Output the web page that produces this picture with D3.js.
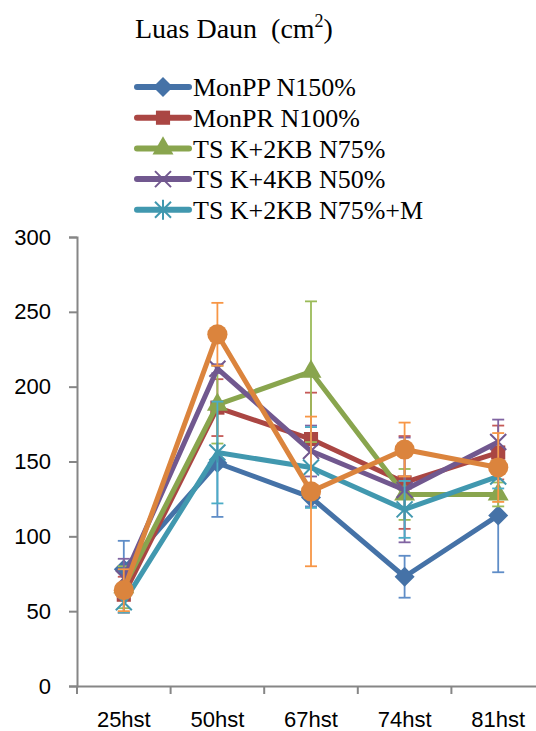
<!DOCTYPE html>
<html>
<head>
<meta charset="utf-8">
<script src="https://cdn.jsdelivr.net/npm/d3@7"></script>
<style>
  body { margin: 0; background: #fff; }
  svg { display: block; }
</style>
</head>
<body>
<div id="chart"></div>
<script>
// Data
const categories = ["25hst", "50hst", "67hst", "74hst", "81hst"];
const seriesNames = ["MonPP N150%", "MonPR N100%", "TS K+2KB N75%", "TS K+4KB N50%", "TS K+2KB N75%+M", "TS K+4KB N50%+M"];
const monPP = [78, 149, 126, 73, 114];
const monPR = [61, 186, 165, 136, 156];
const tsK2 = [66, 188, 210, 128, 128];
const tsK4 = [72, 212, 157, 131, 163];
const tsK2M = [56, 156, 146, 118, 140];
const tsK4M = [64, 235, 130, 158, 146];
const errPP = [19, 36, 6, 14, 38];
const errPR = [12, 19, 31, 31, 18];
const errK2 = [14, 26, 47, 17, 8];
const errK4 = [13, 3, 17, 35, 15];
const errK2M = [7, 34, 27, 19, 8];
const errK4M = [14, 21, 50, 18, 23];
const yTicks = [0, 50, 100, 150, 200, 250, 300];

const colors = ["#4572A7", "#AA4643", "#89A54E", "#71588F", "#4198AF", "#DB843D"];
const errColors = ["#5f8dc7", "#c55a57", "#9bbb59", "#8064a2", "#4bacc6", "#f79646"];
const markers = ["diamond", "square", "triangle", "x", "asterisk", "circle"];
const values = [monPP, monPR, tsK2, tsK4, tsK2M, tsK4M];
const errors = [errPP, errPR, errK2, errK4, errK2M, errK4M];

const series = seriesNames.map((name, i) => ({
  name: name, color: colors[i], errColor: errColors[i], marker: markers[i],
  points: categories.map((c, j) => ({cat: c, v: values[i][j], e: errors[i][j]}))
}));

const svgWidth = 536, svgHeight = 731;
const svg = d3.select("#chart").append("svg")
  .attr("width", svgWidth)
  .attr("height", svgHeight);

// Plot area
const x = d3.scaleBand().domain(categories).range([77, 545]);
const y = d3.scaleLinear().domain([0, 300]).range([686, 237]);

// Axes
const axisColor = "#868686";
const yAxis = svg.append("g")
  .attr("transform", "translate(77,0)")
  .call(d3.axisLeft(y).tickValues(yTicks).tickSize(8).tickPadding(18));
const xAxis = svg.append("g")
  .attr("transform", "translate(0,686)")
  .call(d3.axisBottom(x).tickSize(0).tickPadding(25));

// x ticks sit between categories
xAxis.selectAll(".bnd").data(d3.range(categories.length + 1)).enter()
  .append("line")
  .attr("x1", i => 77 + i * x.step()).attr("x2", i => 77 + i * x.step())
  .attr("y1", 0).attr("y2", 8)
  .attr("stroke", axisColor).attr("stroke-width", 2);

[xAxis, yAxis].forEach(a => {
  a.select(".domain").attr("stroke", axisColor).attr("stroke-width", 2);
  a.selectAll(".tick line").attr("stroke", axisColor).attr("stroke-width", 2);
  a.selectAll(".tick text")
    .attr("fill", "#000")
    .style("font-family", "'Liberation Sans', Arial, sans-serif")
    .style("font-size", "22px");
});
yAxis.select(".domain").attr("d", "M-8,237.5H0.5V686.5H-8");
xAxis.select(".domain").attr("d", "M77,0.5H545");

const cx = d => x(d.cat) + x.bandwidth() / 2;

// marker symbol paths
function markerPath(type) {
  switch (type) {
    case "diamond": return "M0,-10L10,0L0,10L-10,0Z";
    case "square": return d3.symbol(d3.symbolSquare, 200)();
    case "triangle": return d3.symbol(d3.symbolTriangle, 190)();
    case "circle": return d3.symbol(d3.symbolCircle, 320)();
    case "x": return "M-8,-8L8,8M-8,8L8,-8";
    case "asterisk": return "M-8,-8L8,8M-8,8L8,-8M0,-10V10";
  }
}

const line = d3.line().x(cx).y(d => y(d.v));

series.forEach(s => {
  const g = svg.append("g");

  // error bars
  const eb = g.selectAll(".err").data(s.points).enter().append("g")
    .attr("stroke", s.errColor).attr("stroke-width", 1.8);
  eb.append("line")
    .attr("x1", cx).attr("x2", cx)
    .attr("y1", d => y(d.v - d.e)).attr("y2", d => y(d.v + d.e));
  eb.append("line")
    .attr("x1", d => cx(d) - 6).attr("x2", d => cx(d) + 6)
    .attr("y1", d => y(d.v + d.e)).attr("y2", d => y(d.v + d.e));
  eb.append("line")
    .attr("x1", d => cx(d) - 6).attr("x2", d => cx(d) + 6)
    .attr("y1", d => y(d.v - d.e)).attr("y2", d => y(d.v - d.e));

  g.append("path")
    .datum(s.points)
    .attr("d", line)
    .attr("fill", "none")
    .attr("stroke", s.color)
    .attr("stroke-width", 5)
    .attr("stroke-linejoin", "round");

  const filled = ["diamond", "square", "triangle", "circle"].includes(s.marker);
  g.selectAll(".mk").data(s.points).enter().append("path")
    .attr("transform", d => `translate(${cx(d)},${y(d.v)})`)
    .attr("d", markerPath(s.marker))
    .attr("fill", filled ? s.color : "none")
    .attr("stroke", s.color)
    .attr("stroke-width", filled ? 0 : 2);
});

// Title
svg.append("text")
  .attr("x", 135).attr("y", 38)
  .style("font-family", "'Liberation Serif', 'Times New Roman', serif")
  .style("font-size", "28px")
  .html("Luas Daun&#160;&#160;(cm<tspan dy='-11' font-size='18px'>2</tspan><tspan dy='11'>)</tspan>");

// Legend (first five series)
const legend = svg.append("g")
  .selectAll("g").data(series.slice(0, 5)).enter().append("g")
  .attr("transform", (d, i) => `translate(137,${87 + i * 30.7})`);
legend.append("line")
  .attr("x1", 0).attr("x2", 52)
  .attr("stroke", d => d.color).attr("stroke-width", 6)
  .attr("stroke-linecap", "round");
legend.append("path")
  .attr("transform", "translate(26,0)")
  .attr("d", d => markerPath(d.marker))
  .attr("fill", d => ["diamond", "square", "triangle"].includes(d.marker) ? d.color : "none")
  .attr("stroke", d => d.color)
  .attr("stroke-width", d => ["x", "asterisk"].includes(d.marker) ? 2 : 0);
legend.append("text")
  .attr("x", 56).attr("y", 0).attr("dy", "0.35em")
  .style("font-family", "'Liberation Serif', 'Times New Roman', serif")
  .style("font-size", "26px")
  .text(d => d.name);
</script>
</body>
</html>
